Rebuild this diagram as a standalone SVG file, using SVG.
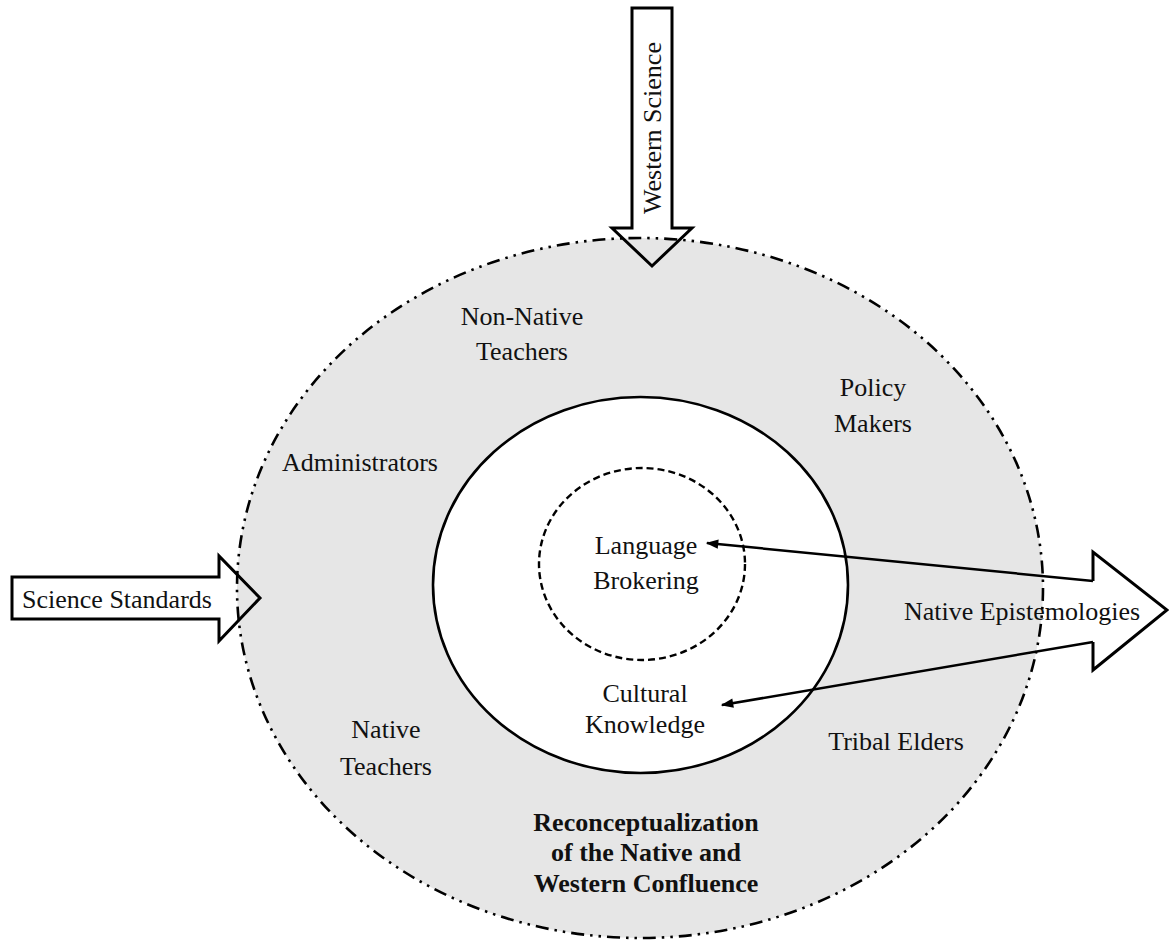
<svg xmlns="http://www.w3.org/2000/svg" width="1169" height="941" viewBox="0 0 1169 941">
<defs>
<style>
text{font-family:"Liberation Serif","Times New Roman",serif;font-size:26px;fill:#111;text-anchor:middle}
.b{font-weight:bold}
.arrow{fill:none;stroke:#000;stroke-width:3;stroke-linejoin:miter}
.conn{fill:none;stroke:#000;stroke-width:2.5}
</style>
<marker id="ah" viewBox="0 0 10 10" refX="9" refY="5" markerWidth="6" markerHeight="5" markerUnits="strokeWidth" orient="auto">
<path d="M0,1.2 L10,5 L0,8.8 Z" fill="#000"/>
</marker>
</defs>
<rect width="1169" height="941" fill="#fff"/>
<g id="confluence">
<ellipse cx="640" cy="588" rx="403" ry="350" fill="#e6e6e6" stroke="#000" stroke-width="2.6" stroke-dasharray="13 6 2.5 6 2.5 6"/>
<text class="b" x="646" y="831">Reconceptualization</text>
<text class="b" x="646" y="861">of the Native and</text>
<text class="b" x="646" y="892">Western Confluence</text>
</g>
<g id="inner">
<ellipse cx="640.5" cy="585" rx="207.5" ry="188" fill="#fff" stroke="#000" stroke-width="2.6"/>
</g>
<g id="language-brokering">
<ellipse cx="642" cy="564" rx="103" ry="96" fill="none" stroke="#000" stroke-width="2.4" stroke-dasharray="7 4"/>
<text x="646" y="554">Language</text>
<text x="646" y="589">Brokering</text>
</g>
<g id="cultural-knowledge">
<text x="645" y="702">Cultural</text>
<text x="645" y="733">Knowledge</text>
</g>
<g id="non-native-teachers">
<text x="522" y="325">Non-Native</text>
<text x="522" y="360">Teachers</text>
</g>
<g id="policy-makers">
<text x="873" y="396">Policy</text>
<text x="873" y="432">Makers</text>
</g>
<g id="administrators">
<text x="360" y="471">Administrators</text>
</g>
<g id="native-teachers">
<text x="386" y="738">Native</text>
<text x="386" y="775">Teachers</text>
</g>
<g id="tribal-elders">
<text x="896" y="750">Tribal Elders</text>
</g>
<g id="western-science">
<path class="arrow" d="M632,8 L672,8 L672,228 L692,228 L652,266 L612,228 L632,228 Z"/>
<text transform="translate(661,128) rotate(-90)">Western Science</text>
</g>
<g id="science-standards">
<path class="arrow" d="M12,577 L219,577 L219,556 L260,598 L219,641 L219,619 L12,619 Z"/>
<text x="117" y="608">Science Standards</text>
</g>
<g id="native-epistemologies">
<path class="arrow" d="M1093,581 L1093,552 L1167,610 L1093,670 L1093,642"/>
<text x="1022" y="620">Native Epistemologies</text>
</g>
<g id="connectors">
<line class="conn" x1="1093" y1="581" x2="707" y2="543" marker-end="url(#ah)"/>
<line class="conn" x1="1093" y1="642" x2="722" y2="705" marker-end="url(#ah)"/>
</g>
</svg>
